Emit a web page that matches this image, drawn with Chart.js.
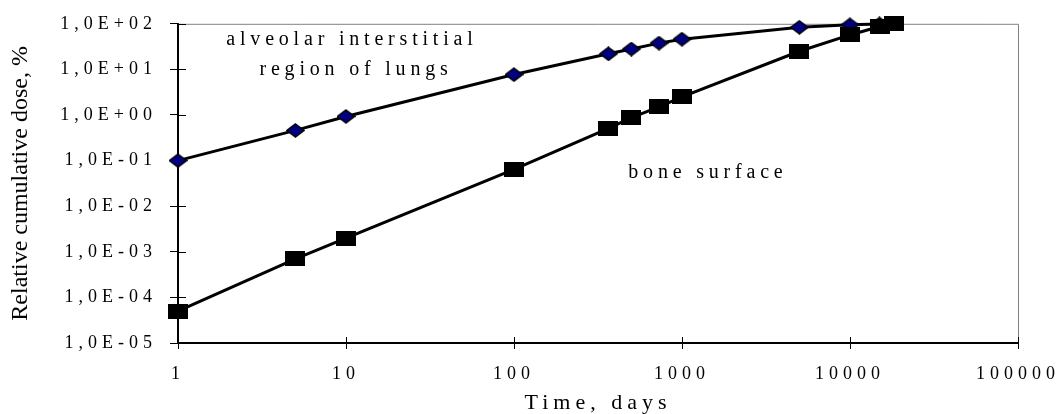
<!DOCTYPE html>
<html>
<head>
<meta charset="utf-8">
<title>Relative cumulative dose</title>
<script src="https://cdn.jsdelivr.net/npm/chart.js@4.4.1/dist/chart.umd.min.js"></script>
<style>
    html, body { margin: 0; padding: 0; background: #fff; }
    #wrap { position: relative; width: 1059px; height: 414px; }
</style>
</head>
<body>
<div id="wrap"><canvas id="doseChart"></canvas></div>
<script>
// ================== Data ==================
const days = [1, 5, 10, 100, 365, 500, 730, 1000, 5000, 10000, 15000, 18250];
const alveolarDose = [0.1, 0.46, 0.93, 7.7, 22, 28, 37.7, 46, 84, 95, 99, 100];
const boneDose = [5e-5, 7e-4, 2e-3, 0.064, 0.51, 0.88, 1.5, 2.5, 25, 57, 87, 100];

const xTickValues = [1, 10, 100, 1000, 10000, 100000];
const xTickLabels = ['1', '10', '100', '1000', '10000', '100000'];
const yTickValues = [1e-5, 1e-4, 1e-3, 1e-2, 1e-1, 1, 10, 100];
const yTickLabels = ['1,0E-05', '1,0E-04', '1,0E-03', '1,0E-02', '1,0E-01', '1,0E+00', '1,0E+01', '1,0E+02'];

const xTitle = 'Time, days';
const yTitle = 'Relative cumulative dose, %';
const curveLabels = ['alveolar interstitial', 'region of lungs', 'bone surface'];

// ================== Styling helpers ==================
const FONT = "'Liberation Serif', 'Times New Roman', serif";

function makeMarker(w, h, paint) {
    const c = document.createElement('canvas');
    c.width = w;
    c.height = h;
    paint(c.getContext('2d'), w, h);
    return c;
}

const squareMarker = makeMarker(20, 15, (g, w, h) => {
    g.fillStyle = '#000';
    g.fillRect(0, 0, w, h);
});

const diamondMarker = makeMarker(19, 15, (g, w, h) => {
    g.beginPath();
    g.moveTo(w / 2, 1);
    g.lineTo(w - 1, h / 2);
    g.lineTo(w / 2, h - 1);
    g.lineTo(1, h / 2);
    g.closePath();
    g.fillStyle = '#000080';
    g.fill();
    g.lineWidth = 1.5;
    g.strokeStyle = '#000';
    g.stroke();
});

// frame, crossing ticks, rotated y title and curve names
const framePlugin = {
    id: 'framePlugin',
    beforeDraw(chart) {
        chart.ctx.letterSpacing = '5px'; // spaced-out axis text like the original
    },
    beforeDatasetsDraw(chart) {
        const { ctx, chartArea: a, scales } = chart;
        ctx.save();
        ctx.strokeStyle = '#808080';
        ctx.lineWidth = 1;
        ctx.beginPath();
        ctx.moveTo(a.left, a.top + 0.5);
        ctx.lineTo(a.right + 0.5, a.top + 0.5);
        ctx.lineTo(a.right + 0.5, a.bottom);
        ctx.stroke();

        // inner half of each tick mark
        ctx.strokeStyle = '#000';
        ctx.beginPath();
        scales.y.ticks.forEach(t => {
            const py = Math.round(scales.y.getPixelForValue(t.value)) + 0.5;
            ctx.moveTo(a.left, py);
            ctx.lineTo(a.left + 8, py);
        });
        scales.x.ticks.forEach(t => {
            const px = Math.round(scales.x.getPixelForValue(t.value)) + 0.5;
            ctx.moveTo(px, a.bottom);
            ctx.lineTo(px, a.bottom - 6);
        });
        ctx.stroke();
        ctx.restore();
    },
    afterDraw(chart) {
        const { ctx, chartArea: a, scales } = chart;
        ctx.save();
        ctx.fillStyle = '#000';

        // y axis title (normal spacing)
        ctx.letterSpacing = '0px';
        ctx.font = `24px ${FONT}`;
        ctx.textAlign = 'center';
        ctx.textBaseline = 'alphabetic';
        ctx.save();
        ctx.translate(27, (a.top + a.bottom) / 2);
        ctx.rotate(-Math.PI / 2);
        ctx.fillText(yTitle, 0, 0);
        ctx.restore();

        // curve names, anchored in data units
        ctx.letterSpacing = '4.8px';
        ctx.font = `20px ${FONT}`;
        const spots = [[10.5, 33.6], [11.1, 7.5], [1380, 0.0417]];
        curveLabels.forEach((txt, i) => {
            const px = scales.x.getPixelForValue(spots[i][0]) + 2.4;
            const py = scales.y.getPixelForValue(spots[i][1]);
            ctx.fillText(txt, px, py);
        });
        ctx.restore();
    }
};

// ================== Chart ==================
new Chart(document.getElementById('doseChart'), {
    type: 'line',
    data: {
        datasets: [
            {
                label: 'bone surface',
                data: days.map((d, i) => ({ x: d, y: boneDose[i] })),
                borderColor: '#000',
                borderWidth: 3,
                pointStyle: squareMarker,
                pointRadius: 10,
                tension: 0,
                clip: false
            },
            {
                label: 'alveolar interstitial region of lungs',
                data: days.map((d, i) => ({ x: d, y: alveolarDose[i] })),
                borderColor: '#000',
                borderWidth: 3,
                pointStyle: diamondMarker,
                pointRadius: 9,
                tension: 0,
                clip: false
            }
        ]
    },
    options: {
        responsive: true,
        maintainAspectRatio: false,
        animation: false,
        layout: { padding: { top: 20, right: 41, bottom: 0, left: 0 } },
        plugins: { legend: { display: false }, tooltip: { enabled: false } },
        scales: {
            x: {
                type: 'logarithmic',
                position: 'bottom',
                min: 1,
                max: 100000,
                afterBuildTicks: s => { s.ticks = xTickValues.map(v => ({ value: v })); },
                afterFit: s => { s.height = 71; },
                ticks: {
                    autoSkip: false,
                    maxRotation: 0,
                    minRotation: 0,
                    padding: 14,
                    color: '#000',
                    font: { family: FONT, size: 18 },
                    callback: (v, i) => xTickLabels[i]
                },
                grid: { drawOnChartArea: false, tickLength: 6, color: '#000', lineWidth: 1 },
                border: { color: '#000', width: 2 },
                title: {
                    display: true,
                    text: xTitle,
                    color: '#000',
                    font: { family: FONT, size: 22, lineHeight: 1 },
                    padding: { top: 0, bottom: 0 }
                }
            },
            y: {
                type: 'logarithmic',
                position: 'left',
                min: 1e-5,
                max: 100,
                afterBuildTicks: s => { s.ticks = yTickValues.map(v => ({ value: v })); },
                afterFit: s => { s.width = 178; },
                ticks: {
                    autoSkip: false,
                    padding: 13,
                    color: '#000',
                    font: { family: FONT, size: 18 },
                    callback: (v, i) => yTickLabels[i]
                },
                grid: { drawOnChartArea: false, tickLength: 8, color: '#000', lineWidth: 1 },
                border: { color: '#000', width: 2 }
            }
        }
    },
    plugins: [framePlugin]
});
</script>
</body>
</html>
